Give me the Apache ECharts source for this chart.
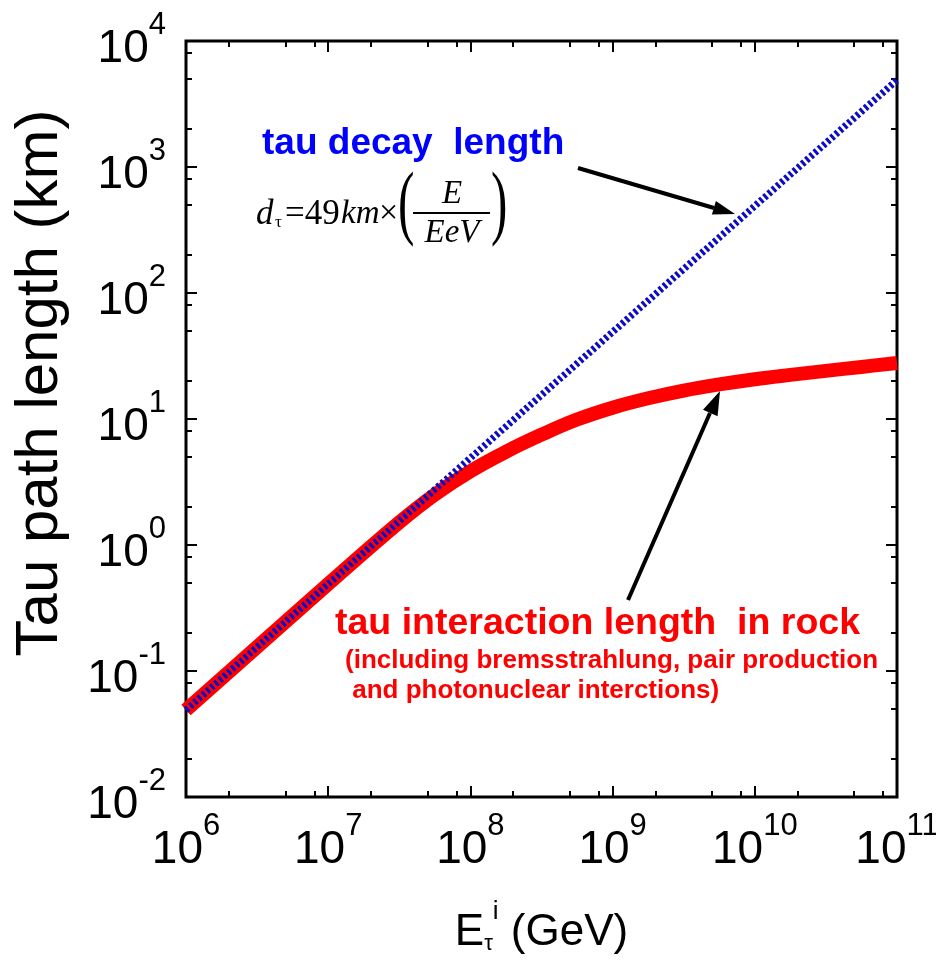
<!DOCTYPE html>
<html><head><meta charset="utf-8">
<script src="https://cdn.jsdelivr.net/npm/echarts@6/dist/echarts.min.js"></script>
<style>html,body{margin:0;padding:0;background:#fff}#c{width:936px;height:960px}</style>
</head><body><div id="c"></div>
<script>
// ---- data ----
const energyGeV = [1e6, 1e7, 1e8, 1e9, 1e10, 1e11];
const decayLengthKm = [0.049, 0.49, 4.9, 49, 490, 4900];
const interEnergyGeV = [1e6, 3.16e6, 1e7, 3.16e7, 5.62e7, 1e8, 1.78e8, 3.16e8, 5.62e8, 1e9, 1.78e9, 3.16e9, 5.62e9, 1e10, 1.78e10, 3.16e10, 5.62e10, 1e11];
const interLengthKm = [0.049, 0.155, 0.49, 1.51, 2.51, 3.85, 5.5, 7.5, 9.9, 12.3, 14.6, 16.8, 18.8, 20.7, 22.4, 24.1, 25.9, 27.8];
const xTickExps = [6, 7, 8, 9, 10, 11];
const yTickExps = [-2, -1, 0, 1, 2, 3, 4];
const minorMantissas = [2, 5, 8];

const FONT = "'Liberation Sans', Arial, sans-serif";
const xMinor = [], yMinor = [];
xTickExps.slice(0, -1).forEach(e => minorMantissas.forEach(m => xMinor.push(m * Math.pow(10, e))));
yTickExps.slice(0, -1).forEach(e => minorMantissas.forEach(m => yMinor.push(m * Math.pow(10, e))));
const xMajor = xTickExps.map(e => Math.pow(10, e));
const yMajor = yTickExps.map(e => Math.pow(10, e));

const expFmt = v => '{b|10}{s|' + Math.round(Math.log10(v)) + '}';
const richLbl = {
  b: { fontSize: 46, fontFamily: FONT, color: '#000', verticalAlign: 'bottom', lineHeight: 62 },
  s: { fontSize: 31, fontFamily: FONT, color: '#000', verticalAlign: 'top', lineHeight: 32 }
};

function xAx(opts) {
  return Object.assign({
    type: 'log', logBase: 10, min: 1e6, max: 1e11, gridIndex: 0,
    axisLine: { show: false }, splitLine: { show: false },
    axisLabel: { show: false }, axisTick: { show: false }
  }, opts);
}
function yAx(opts) {
  return Object.assign({
    type: 'log', logBase: 10, min: 1e-2, max: 1e4, gridIndex: 0,
    axisLine: { show: false }, splitLine: { show: false },
    axisLabel: { show: false }, axisTick: { show: false }
  }, opts);
}
const majTick = vals => ({ show: true, inside: true, length: 11, customValues: vals, lineStyle: { color: '#000', width: 2 } });
const minTick = vals => ({ show: true, inside: true, length: 6, customValues: vals, lineStyle: { color: '#000', width: 2 } });

const chart = echarts.init(document.getElementById('c'), null, { renderer: 'canvas' });
chart.setOption({
  backgroundColor: '#fff',
  animation: false,
  grid: { left: 186, top: 41, width: 711, height: 756, containLabel: false, outerBoundsMode: 'none',
          show: true, borderColor: '#000', borderWidth: 3, backgroundColor: 'transparent' },
  xAxis: [
    xAx({
      position: 'bottom', axisTick: majTick(xMajor),
      axisLabel: { show: true, margin: 14, customValues: xMajor, formatter: expFmt, rich: richLbl },
      name: '{n|E}{sub|τ}{sup|i}{n| (GeV)}', nameLocation: 'middle', nameGap: 102,
      nameTextStyle: { rich: {
        n: { fontSize: 44, fontFamily: FONT, color: '#000', verticalAlign: 'bottom', lineHeight: 56 },
        sub: { fontSize: 22, fontFamily: FONT, color: '#000', verticalAlign: 'bottom', lineHeight: 22 },
        sup: { fontSize: 26, fontFamily: FONT, color: '#000', verticalAlign: 'top', lineHeight: 26 }
      } }
    }),
    xAx({ position: 'top', axisTick: majTick(xMajor) }),
    xAx({ position: 'bottom', axisTick: minTick(xMinor) }),
    xAx({ position: 'top', axisTick: minTick(xMinor) })
  ],
  yAxis: [
    yAx({
      position: 'left', axisTick: majTick(yMajor),
      axisLabel: { show: true, margin: 20, customValues: yMajor, formatter: expFmt, rich: richLbl }
    }),
    yAx({ position: 'right', axisTick: majTick(yMajor) }),
    yAx({ position: 'left', axisTick: minTick(yMinor) }),
    yAx({ position: 'right', axisTick: minTick(yMinor) })
  ],
  series: [
    {
      name: 'tau interaction length in rock', type: 'line', xAxisIndex: 0, yAxisIndex: 0,
      data: interEnergyGeV.map((e, i) => [e, interLengthKm[i]]),
      showSymbol: false, smooth: 0.4, z: 2,
      lineStyle: { color: '#ff0000', width: 14, cap: 'butt' }
    },
    {
      name: 'tau decay length', type: 'line', xAxisIndex: 0, yAxisIndex: 0,
      data: energyGeV.map((e, i) => [e, decayLengthKm[i]]),
      showSymbol: false, z: 3,
      lineStyle: { color: '#0c0cc4', width: 7, type: [3, 2.6], cap: 'butt' }
    }
  ],
  graphic: [
    { type: 'text', x: 40, y: 383, rotation: Math.PI / 2,
      style: { text: 'Tau path length (km)', fill: '#000', font: "60px 'Liberation Sans', Arial, sans-serif", align: 'center', verticalAlign: 'middle' } },
    { type: 'text', left: 262, top: 125, style: { text: 'tau decay  length', fill: '#0000ff', font: "bold 37px 'Liberation Sans', Arial, sans-serif" } },
    // formula d_tau = 49 km x (E/EeV)
    { type: 'text', x: 256, y: 197, style: { text: 'd', fill: '#000', font: "italic 35px 'Liberation Serif', serif" } },
    { type: 'text', x: 275, y: 214, style: { text: 'τ', fill: '#000', font: "17px 'Liberation Serif', serif" } },
    { type: 'text', x: 285, y: 197, style: { text: '=49', fill: '#000', font: "35px 'Liberation Serif', serif" } },
    { type: 'text', x: 341, y: 198, style: { text: 'km', fill: '#000', font: "italic 33px 'Liberation Serif', serif" } },
    { type: 'text', x: 379, y: 197, style: { text: '×', fill: '#000', font: "34px 'Liberation Serif', serif" } },
    { type: 'text', x: 398, y: 166, scaleX: 0.6, style: { text: '(', fill: '#000', font: "82px 'Liberation Serif', serif" } },
    { type: 'text', x: 452, y: 178, style: { text: 'E', fill: '#000', font: "italic 33px 'Liberation Serif', serif", align: 'center' } },
    { type: 'line', shape: { x1: 413, y1: 213, x2: 490, y2: 213 }, style: { stroke: '#000', lineWidth: 2 } },
    { type: 'text', x: 452, y: 217, style: { text: 'EeV', fill: '#000', font: "italic 33px 'Liberation Serif', serif", align: 'center' } },
    { type: 'text', x: 491, y: 166, scaleX: 0.6, style: { text: ')', fill: '#000', font: "82px 'Liberation Serif', serif" } },
    // arrows
    { type: 'line', shape: { x1: 578, y1: 168, x2: 714, y2: 208 }, style: { stroke: '#000', lineWidth: 4 } },
    { type: 'polygon', shape: { points: [[735, 214], [711.9, 214.5], [715.9, 201.1]] }, style: { fill: '#000' } },
    { type: 'line', shape: { x1: 628, y1: 600, x2: 710, y2: 413 }, style: { stroke: '#000', lineWidth: 4 } },
    { type: 'polygon', shape: { points: [[720, 391], [717.6, 416.2], [703.0, 409.8]] }, style: { fill: '#000' } },
    // red texts
    { type: 'text', left: 335, top: 605, style: { text: 'tau interaction length  in rock', fill: '#ff0000', font: "bold 37.5px 'Liberation Sans', Arial, sans-serif" } },
    { type: 'text', left: 345, top: 648, style: { text: '(including bremsstrahlung, pair production', fill: '#ff0000', font: "bold 26px 'Liberation Sans', Arial, sans-serif" } },
    { type: 'text', left: 345, top: 678, style: { text: ' and photonuclear interctions)', fill: '#ff0000', font: "bold 26px 'Liberation Sans', Arial, sans-serif" } }
  ]
});
</script></body></html>
